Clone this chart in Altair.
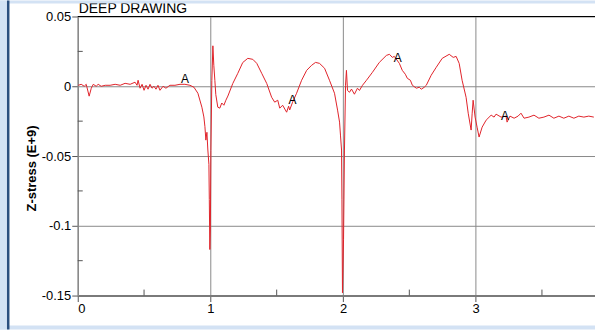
import altair as alt
import pandas as pd

# ---- data ----
time_s = [0.004, 0.026, 0.049, 0.064, 0.086, 0.102, 0.117, 0.139, 0.154, 0.177,
          0.207, 0.244, 0.282, 0.320, 0.357, 0.395, 0.432, 0.447, 0.455, 0.470,
          0.485, 0.500, 0.515, 0.530, 0.545, 0.560, 0.575, 0.590, 0.605, 0.620,
          0.643, 0.665, 0.695, 0.733, 0.771, 0.808, 0.846, 0.876, 0.906, 0.936,
          0.951, 0.959, 0.966, 0.974, 0.981, 0.989, 0.992, 0.996, 1.000, 1.004,
          1.011, 1.019, 1.026, 1.034, 1.041, 1.056, 1.071, 1.086, 1.102, 1.117,
          1.132, 1.169, 1.207, 1.244, 1.282, 1.320, 1.350, 1.387, 1.425, 1.462,
          1.485, 1.508, 1.523, 1.545, 1.575, 1.590, 1.598, 1.620, 1.650, 1.688,
          1.726, 1.763, 1.793, 1.823, 1.861, 1.898, 1.936, 1.959, 1.974, 1.981,
          1.989, 1.992, 1.996, 2.004, 2.011, 2.019, 2.026, 2.034, 2.049, 2.064,
          2.086, 2.109, 2.124, 2.147, 2.177, 2.222, 2.274, 2.327, 2.350, 2.372,
          2.387, 2.425, 2.447, 2.470, 2.485, 2.508, 2.523, 2.553, 2.575, 2.590,
          2.613, 2.628, 2.665, 2.703, 2.748, 2.801, 2.831, 2.853, 2.876, 2.898,
          2.928, 2.944, 2.966, 2.974, 2.981, 2.996, 3.011, 3.026, 3.049, 3.079,
          3.117, 3.139, 3.154, 3.192, 3.229, 3.237, 3.259, 3.290, 3.320, 3.342,
          3.365, 3.402, 3.440, 3.477, 3.515, 3.553, 3.590, 3.628, 3.665, 3.703,
          3.741, 3.778, 3.816, 3.853, 3.891]
z_stress = [0.0007, 0.0014, 0.0000, 0.0014, -0.0071, -0.0014, 0.0014, 0.0000, 0.0014, 0.0000,
            0.0007, 0.0007, 0.0014, 0.0007, 0.0021, 0.0014, 0.0029, 0.0007, 0.0043, -0.0014,
            0.0014, -0.0029, 0.0007, -0.0021, 0.0014, -0.0014, 0.0000, -0.0021, 0.0007, -0.0029,
            0.0000, -0.0014, 0.0007, 0.0007, 0.0014, 0.0014, 0.0007, -0.0007, -0.0050, -0.0150,
            -0.0220, -0.0290, -0.0386, -0.0330, -0.0457, -0.0560, -0.0810, -0.1170, -0.1030, -0.0460,
            0.0040, 0.0290, 0.0150, 0.0040, -0.0060, -0.0150, -0.0157, -0.0120, -0.0136, -0.0100,
            -0.0070, 0.0020, 0.0093, 0.0170, 0.0200, 0.0193, 0.0164, 0.0093, 0.0020, -0.0079,
            -0.0114, -0.0100, -0.0157, -0.0136, -0.0186, -0.0143, -0.0170, -0.0114, -0.0050, 0.0043,
            0.0114, 0.0150, 0.0171, 0.0164, 0.0129, 0.0043, -0.0050, -0.0171, -0.0257, -0.0350,
            -0.0457, -0.0814, -0.1480, -0.1100, -0.0457, 0.0007, 0.0114, -0.0030, -0.0043, -0.0020,
            -0.0057, -0.0014, -0.0030, 0.0007, 0.0043, 0.0100, 0.0171, 0.0221, 0.0229, 0.0207,
            0.0214, 0.0164, 0.0114, 0.0086, 0.0057, 0.0043, 0.0007, -0.0014, -0.0007, -0.0021,
            -0.0007, 0.0007, 0.0079, 0.0136, 0.0200, 0.0229, 0.0207, 0.0214, 0.0164, 0.0043,
            -0.0079, -0.0193, -0.0314, -0.0193, -0.0100, -0.0221, -0.0293, -0.0364, -0.0293, -0.0243,
            -0.0207, -0.0221, -0.0200, -0.0221, -0.0214, -0.0257, -0.0214, -0.0229, -0.0214, -0.0193,
            -0.0229, -0.0221, -0.0207, -0.0229, -0.0221, -0.0207, -0.0229, -0.0214, -0.0229, -0.0214,
            -0.0229, -0.0214, -0.0221, -0.0214, -0.0221]

marker_x = [0.808, 1.620, 2.412, 3.222]
marker_y = [0.005, -0.010, 0.020, -0.021]
marker_label = ["A", "A", "A", "A"]

x_ticks = [0, 1, 2, 3]
y_ticks = [0.05, 0, -0.05, -0.1, -0.15]
x_minor = [0.5, 1.5, 2.5, 3.5]
y_minor = [0.025, -0.025, -0.075, -0.125]

chart_title = "DEEP DRAWING"
y_title = "Z-stress (E+9)"

W, H = 519, 280
FONT = "Liberation Sans"

curve = pd.DataFrame({"t": time_s, "z": z_stress})
marks = pd.DataFrame({"t": marker_x, "z": marker_y, "lab": marker_label})
one = pd.DataFrame({"k": [0]})

xscale = alt.Scale(domain=[0, 3.9], nice=False, zero=False)
yscale = alt.Scale(domain=[-0.15, 0.05], nice=False, zero=False)

line = alt.Chart(curve).mark_line(color="#e0232a", strokeWidth=1).encode(
    x=alt.X("t:Q", scale=xscale,
            axis=alt.Axis(values=x_ticks, title=None, grid=True, gridColor="#8a8a8a",
                          gridOpacity=1, domainColor="#7a7a7a", domainWidth=2,
                          tickColor="#555555", tickSize=6, labelFont=FONT, labelFontSize=13,
                          labelColor="#000000", labelPadding=1, format="d")),
    y=alt.Y("z:Q", scale=yscale,
            axis=alt.Axis(values=y_ticks, title=y_title, grid=True, gridColor="#8a8a8a",
                          gridOpacity=1, domainColor="#8a8a8a", domainWidth=1.5,
                          tickColor="#555555", tickSize=6, labelFont=FONT, labelFontSize=13,
                          labelColor="#000000", labelPadding=1,
                          labelExpr="'' + datum.value",
                          titleFont=FONT, titleFontSize=13, titleFontWeight="bold",
                          titleColor="#000000", titleX=-46, titleY=152,
                          titleBaseline="middle")),
)

top_border = alt.Chart(one).mark_rule(color="#000000", strokeWidth=1.2).encode(
    y=alt.datum(0.05, scale=yscale), x=alt.value(0), x2=alt.value(W))

ymin = alt.Chart(pd.DataFrame({"v": y_minor})).mark_rule(color="#555555", strokeWidth=1).encode(
    y=alt.Y("v:Q", scale=yscale), x=alt.value(0), x2=alt.value(5))
xmin = alt.Chart(pd.DataFrame({"v": x_minor})).mark_rule(color="#555555", strokeWidth=1).encode(
    x=alt.X("v:Q", scale=xscale), y=alt.value(H - 6), y2=alt.value(H))

labels = alt.Chart(marks).mark_text(font=FONT, fontSize=12, color="#000000").encode(
    x=alt.X("t:Q", scale=xscale), y=alt.Y("z:Q", scale=yscale), text="lab:N")

title = alt.Chart(one).mark_text(font=FONT, fontSize=14, color="#000000", align="left",
                                 baseline="alphabetic", text=chart_title).encode(
    x=alt.value(1), y=alt.value(-4))

# decorative page frame seen in the reference
frame_col = "#d3e2f4"
f_left = alt.Chart(one).mark_rect(color=frame_col).encode(
    x=alt.value(-78), x2=alt.value(-71), y=alt.value(-16), y2=alt.value(314))
f_top = alt.Chart(one).mark_rect(color=frame_col).encode(
    x=alt.value(-78), x2=alt.value(W + 2), y=alt.value(-16), y2=alt.value(-13))
f_bot = alt.Chart(one).mark_rect(color=frame_col).encode(
    x=alt.value(-78), x2=alt.value(W + 2), y=alt.value(310), y2=alt.value(314))
f_bar = alt.Chart(one).mark_rect(color="#2b4f7e").encode(
    x=alt.value(-71), x2=alt.value(-68.5), y=alt.value(-16), y2=alt.value(314))

chart = alt.layer(line, top_border, ymin, xmin, labels, title,
                  f_left, f_top, f_bot, f_bar).properties(
    width=W, height=H,
    autosize=alt.AutoSizeParams(type="none"),
    padding={"left": 78, "top": 16, "right": 0, "bottom": 34},
    background="#ffffff",
).configure_view(stroke=None)

chart.save("out.html", embed_options={"renderer": "svg", "actions": False})
